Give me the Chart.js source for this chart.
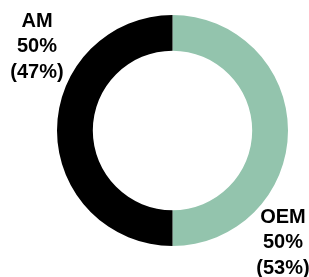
<!DOCTYPE html>
<html>
<head>
<meta charset="utf-8">
<script src="https://cdn.jsdelivr.net/npm/chart.js@4/dist/chart.umd.min.js"></script>
<style>
  html, body { margin: 0; padding: 0; background: #fff; }
  #wrap { width: 309px; height: 277px; }
</style>
</head>
<body>
<div id="wrap"><canvas id="donutChart" width="309" height="277"></canvas></div>
<script>
// dados
const segmentos = ['OEM', 'AM'];
const valores = [50, 50];
const participacao = ['(53%)', '(47%)'];
const cores = ['#93c4ad', '#000000'];

// posição dos rótulos (centro x, y da primeira linha)
const posRotulos = [
    { x: 283, y: 217 },
    { x: 37, y: 21 }
];

const rotulosPlugin = {
    id: 'rotulos',
    afterDraw(chart) {
        const ctx = chart.ctx;
        ctx.save();
        ctx.fillStyle = '#000';
        ctx.font = 'bold 20px "Liberation Sans", Arial, sans-serif';
        ctx.textAlign = 'center';
        ctx.textBaseline = 'middle';
        segmentos.forEach((nome, i) => {
            const p = posRotulos[i];
            const linhas = [nome, valores[i] + '%', participacao[i]];
            linhas.forEach((txt, j) => ctx.fillText(txt, p.x, p.y + j * 25.5));
        });
        ctx.restore();
    }
};

new Chart(document.getElementById('donutChart').getContext('2d'), {
    type: 'doughnut',
    data: {
        labels: segmentos,
        datasets: [{
            data: valores,
            backgroundColor: cores,
            borderWidth: 0
        }]
    },
    options: {
        responsive: false,
        animation: false,
        cutout: '69%',
        layout: { padding: { left: 57, right: 21, top: 15, bottom: 31 } },
        plugins: {
            legend: { display: false },
            tooltip: { enabled: false }
        }
    },
    plugins: [rotulosPlugin]
});
</script>
</body>
</html>
